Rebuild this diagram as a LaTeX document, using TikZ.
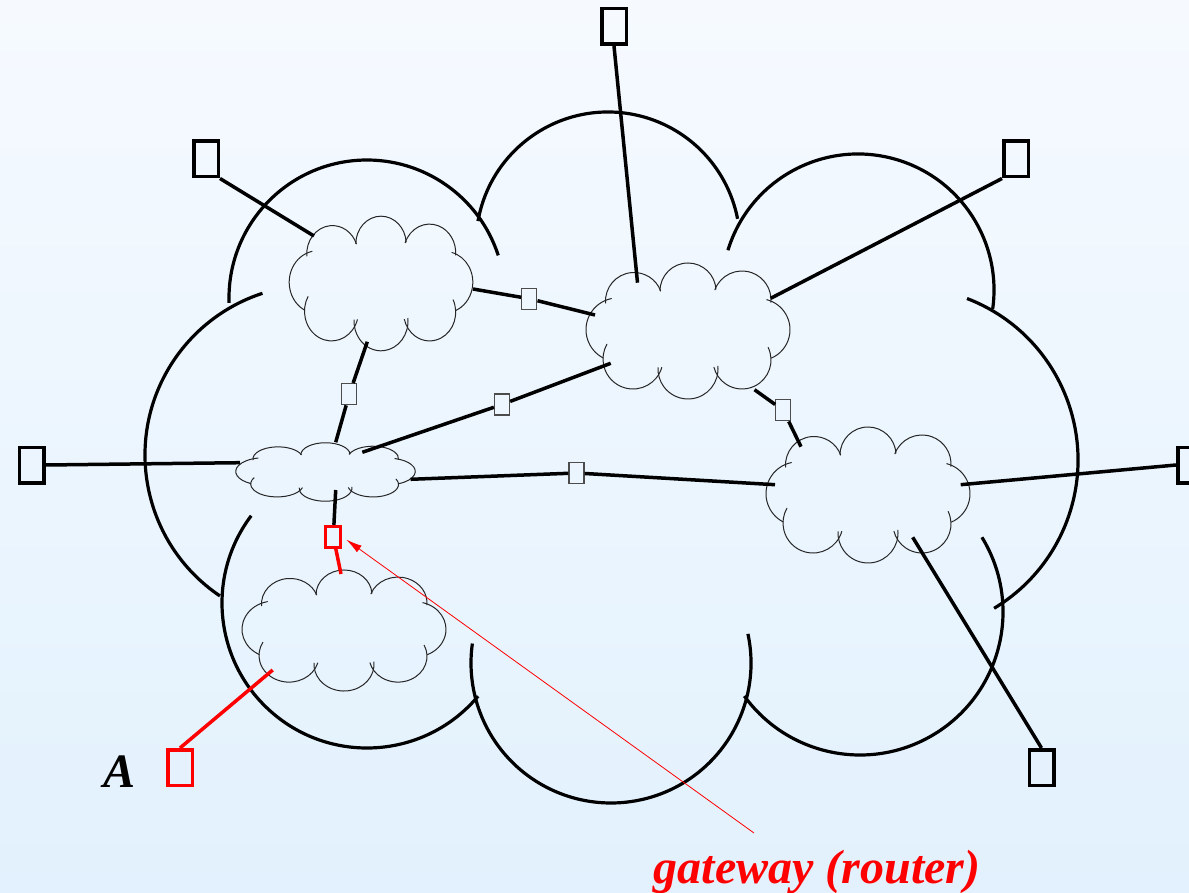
\documentclass[tikz,border=0pt]{standalone}
\usepackage{fontspec}
\setmainfont{Liberation Serif}
\usetikzlibrary{arrows.meta}
\definecolor{bgtop}{RGB}{246,250,255}
\definecolor{bgbot}{RGB}{226,241,253}
\tikzset{
  lobe/.style={line width=3.2pt},
  link/.style={line width=3.5pt},
  host/.style={draw,line width=3.5pt,minimum width=24.5pt,minimum height=35.5pt,inner sep=0pt},
  rtr/.style={draw=black!70,line width=1.3pt,minimum width=15pt,minimum height=21pt,inner sep=0pt},
  puffline/.style={line width=1pt,black!85},
  big/.style={font=\fontsize{48}{56}\selectfont\bfseries\itshape,inner sep=0pt,anchor=base},
  puff/.pic={
    \foreach \cx/\cy/\r/\a/\b in {-54/-30/28.5/175/340, 0/-40/28/180/357, 54/-31/29/200/365,
        71/-1.3/31/284/427, 54/29/29/-26/166, 0/38/30/-6/183, -55/28/30/16/210, -70.2/-1.3/31.8/117/259}
      \draw[puffline] (\cx,\cy) ++(\a:\r) arc[start angle=\a,end angle=\b,radius=\r];
  }
}
\begin{document}
\begin{tikzpicture}[x=1pt,y=-1pt]
\useasboundingbox (0,0) rectangle (1189,893);
\shade[top color=bgtop,bottom color=bgbot] (0,0) rectangle (1189,893);
\clip (0,0) rectangle (1189,893);
% the big cloud
\foreach \cx/\cy/\r/\a/\b in {367/298/138/178/342, 608/244/132/190/349, 858/290/136/197/368,
    905/460/173/291/419, 860/612/143/-31.5/144, 611/663/140/-12/188, 367/603/145/40/217, 315/455/170/124/252}
  \draw[lobe] (\cx,\cy) ++(\a:\r) arc[start angle=\a,end angle=\b,radius=\r];
% small clouds
\pic[xscale=0.9,yscale=0.99] (cA) at (381,283.5) {puff};
\pic (cB) at (688,331) {puff};
\pic (cC) at (868,495) {puff};
\pic[yscale=0.89] (cD) at (344,630.5) {puff};
\pic[xscale=0.88,yscale=0.43] (cE) at (325.5,472) {puff};
% where the lines meet the clouds
\coordinate (cAnw) at (314,236);   \coordinate (cAe) at (473,289);   \coordinate (cAs) at (367.3,341.7);
\coordinate (cBn) at (637.5,282.7); \coordinate (cBne) at (770.7,298.3); \coordinate (cBw) at (595,315);
\coordinate (cBsw) at (610.7,363.3); \coordinate (cBse) at (754.5,389.7);
\coordinate (cCe) at (960.7,484.7); \coordinate (cCnw) at (801,446.7); \coordinate (cCw) at (775,484.7);
\coordinate (cCs) at (912.7,537.3);
\coordinate (cEw) at (240,462.7);  \coordinate (cEn) at (335.7,442.3); \coordinate (cEne) at (362.3,452.3);
\coordinate (cEe) at (410.5,479.3); \coordinate (cEs) at (335.7,490);
\coordinate (cDn) at (341,574);    \coordinate (cDw) at (272.7,670);
% hosts and routers
\foreach \n/\x/\y in {hT/614/26.5, hTL/206/159, hTR/1016/159, hL/31.5/465, hR/1190/465, hBR/1041.5/767.5}
  \node[host] (\n) at (\x,\y) {};
\node[host,draw=red] (hA) at (180,767.5) {};
\foreach \n/\x/\y in {r1/529.3/298.7, r2/349.3/394.2, r3/502/404.5, r4/783.3/410.3, r5/576.5/473}
  \node[rtr] (\n) at (\x,\y) {};
\node[rtr,draw=red,line width=2.8pt,minimum width=15pt,minimum height=21pt] (gw) at (333.3,536.7) {};
\draw[link] (hTL.south east) -- (cAnw);
\draw[link] (hT.south) -- (cBn);
\draw[link] (hTR.south west) -- (cBne);
\draw[link] (hL.east) -- (cEw);
\draw[link] (hR.west) -- (cCe);
\draw[link] (hBR.north) -- (cCs);
\draw[link] (cAe) -- (r1) -- (cBw);
\draw[link] (cAs) -- (r2) -- (cEn);
\draw[link] (cEne) -- (r3) -- (cBsw);
\draw[link] (cBse) -- (r4) -- (cCnw);
\draw[link] (cEe) -- (r5) -- (cCw);
\draw[link] (cEs) -- (gw);
\draw[link,red] (gw) -- (cDn);
\draw[link,red] (hA.north) -- (cDw);
% labels
\node[big] (lblA) at (120,787) {A};
\coordinate (gwtail) at (754,833);
\draw[red,line width=0.8pt,-{Latex[length=16pt,width=8pt]},shorten >=5pt] (gwtail) -- (gw.east);
\node[big,text=red] (lblgw) at (817,883) {gateway (router)};
\end{tikzpicture}
\end{document}
